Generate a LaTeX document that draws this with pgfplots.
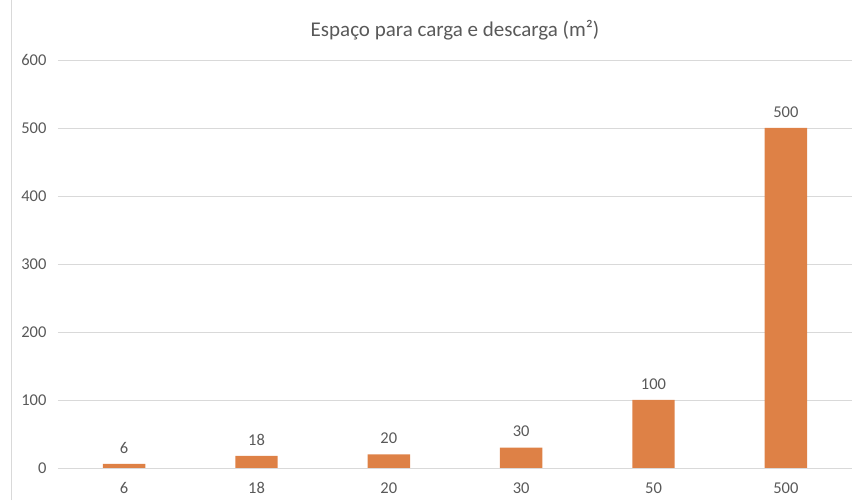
\documentclass[border=0pt]{standalone}
\usepackage{pgfplots}
\pgfplotsset{compat=1.18}
\usepackage{fontspec}
\setmainfont{Carlito}
\definecolor{barc}{HTML}{DE8146}
\definecolor{gridc}{HTML}{D9D9D9}
\definecolor{txt}{HTML}{595959}
\begin{document}
\begin{tikzpicture}[x=1pt,y=1pt]
\useasboundingbox (0,0) rectangle (858,500);
\draw[gridc, line width=0.8pt] (11,0) -- (11,500);
\node[txt, font=\fontsize{21}{24}\selectfont] at (455,470) {Espaço para carga e descarga (m²)};
\begin{axis}[
  at={(58pt,32pt)}, anchor=south west,
  scale only axis, width=794pt, height=408pt,
  xmin=-0.5, xmax=5.5, ymin=0, ymax=600,
  ytick={0,100,...,600},
  xtick={0,...,5}, xticklabels={6,18,20,30,50,500},
  axis line style={draw=none},
  ymajorgrids, grid style={gridc, line width=0.8pt},
  major tick length=0pt,
  tick label style={txt, font=\fontsize{16.5}{18}\selectfont},
  yticklabel style={xshift=-8pt},
  xticklabel style={yshift=-11pt},
  /pgf/number format/assume math mode=true,
  nodes near coords,
  every node near coord/.append style={txt, font=\fontsize{16.5}{18}\selectfont, yshift=7pt},
  clip=false,
]
\addplot[ybar, bar width=0.32, fill=barc, draw=none] coordinates {(0,6) (1,18) (2,20) (3,30) (4,100) (5,500)};
\end{axis}
\end{tikzpicture}
\end{document}
